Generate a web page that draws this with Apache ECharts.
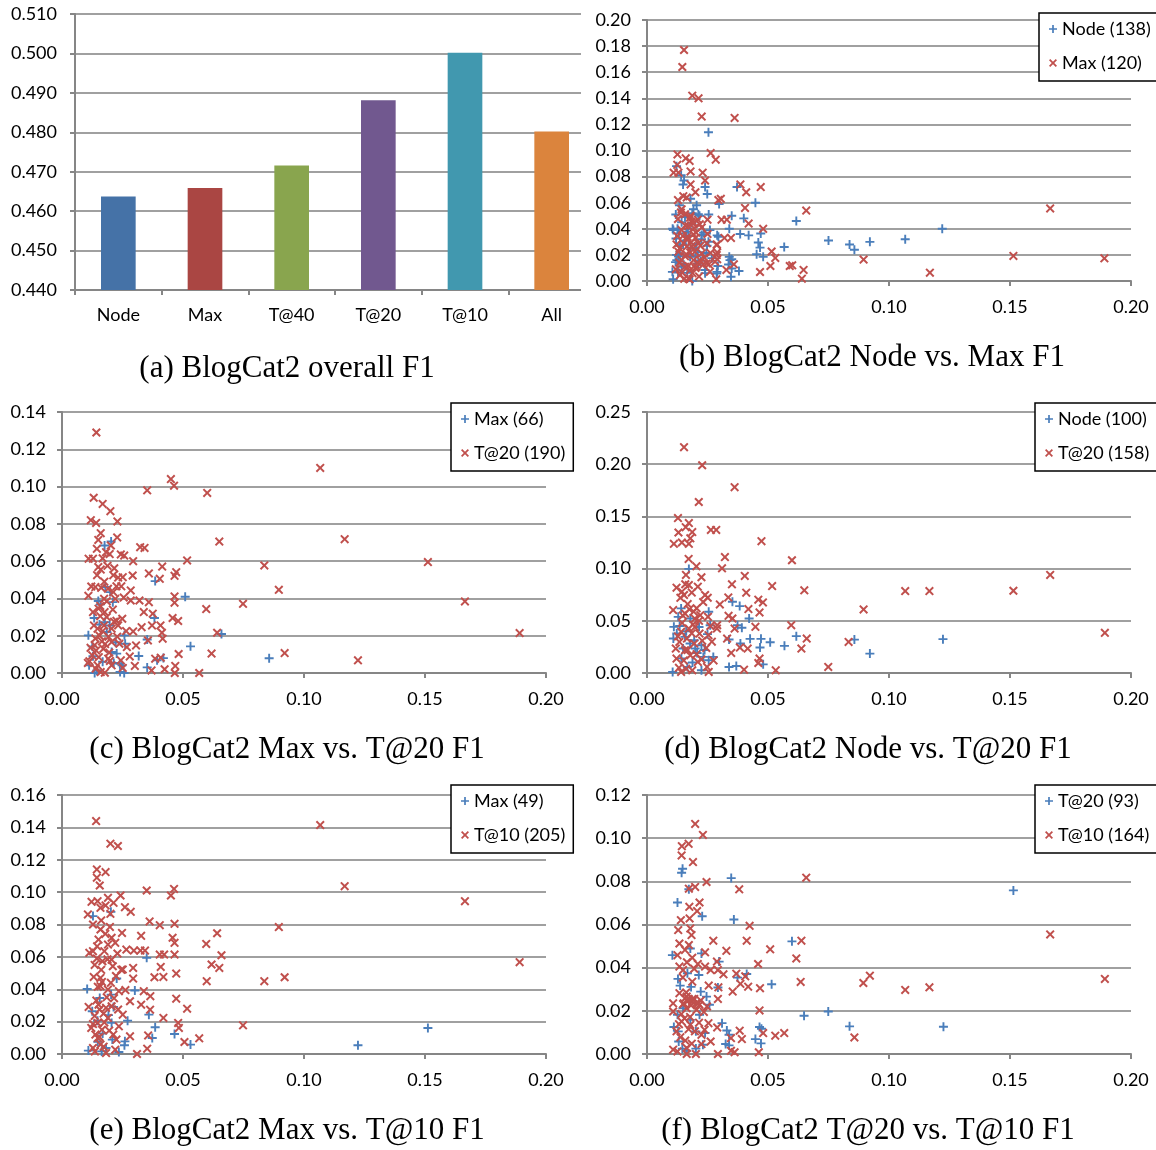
<!DOCTYPE html>
<html><head><meta charset="utf-8">
<script src="https://cdn.jsdelivr.net/npm/echarts@6/dist/echarts.min.js"></script>
<style>
html,body{margin:0;padding:0;background:#fff;}
#main{position:absolute;left:0;top:0;width:1156px;height:1150px;}
#barwrap{position:absolute;left:0;top:0;width:581px;height:340px;overflow:hidden;}
#bar{width:596px;height:340px;}
</style></head><body>
<div id="main"></div><div id="barwrap"><div id="bar"></div></div>
<script>
// ---------- DATA ----------
const barCategories = ['Node','Max','T@40','T@20','T@10','All'];
const barValues = [0.4637,0.4659,0.4716,0.4881,0.5002,0.4802];
const barColors = ['#4572A7','#AA4643','#89A54E','#71588F','#4198AF','#DB843D'];

const bNode = [[0.0254,0.114],[0.0122,0.088],[0.0141,0.081],[0.0153,0.077],[0.0149,0.074],[0.024,0.072],[0.0249,0.0667],[0.0372,0.072],[0.018,0.063],[0.0298,0.059],[0.0448,0.060],[0.0205,0.058],[0.0134,0.058],[0.0119,0.051],[0.0255,0.051],[0.035,0.050],[0.040,0.048],[0.0617,0.046],[0.0106,0.040],[0.0126,0.040],[0.0169,0.040],[0.034,0.040],[0.042,0.035],[0.0385,0.036],[0.047,0.0364],[0.122,0.040],[0.1067,0.032],[0.0921,0.030],[0.0857,0.024],[0.0837,0.028],[0.075,0.031],[0.0567,0.026],[0.046,0.0295],[0.0467,0.0256],[0.0453,0.0205],[0.048,0.0185],[0.034,0.0185],[0.035,0.0167],[0.0337,0.0126],[0.038,0.0077],[0.0347,0.0033],[0.0293,0.0115],[0.0289,0.007],[0.024,0.006],[0.0105,0.007],[0.0108,0.0013],[0.0187,0.000],[0.013,0.019],[0.0122,0.020],[0.0248,0.027],[0.021,0.022],[0.020,0.019],[0.029,0.035],[0.0172,0.0346],[0.0225,0.032],[0.016,0.031],[0.0234,0.037],[0.018,0.0256],[0.0134,0.027],[0.0149,0.028],[0.0143,0.045],[0.0157,0.049],[0.0187,0.052],[0.0217,0.050],[0.0109,0.039],[0.012,0.0326],[0.0123,0.016],[0.0136,0.0211],[0.0143,0.0109],[0.0178,0.0186],[0.0199,0.025],[0.0226,0.0352],[0.0254,0.0301],[0.0295,0.0339],[0.0212,0.0135],[0.024,0.0084],[0.0136,0.0275],[0.0164,0.0377],[0.026,0.039],[0.0192,0.055],[0.0212,0.0511],[0.0288,0.0058],[0.035,0.0096],[0.0343,0.016],[0.0118,0.0145],[0.0132,0.0365],[0.0152,0.0125],[0.0166,0.0062],[0.0185,0.0445],[0.0205,0.0285],[0.0222,0.0155],[0.0245,0.0215],[0.0268,0.0175],[0.0128,0.0065]];
const bMax = [[0.0153,0.177],[0.0146,0.164],[0.0187,0.142],[0.0213,0.140],[0.0226,0.126],[0.0362,0.125],[0.0263,0.098],[0.0284,0.093],[0.0126,0.097],[0.0125,0.089],[0.016,0.094],[0.0176,0.092],[0.011,0.083],[0.013,0.083],[0.018,0.084],[0.023,0.083],[0.024,0.077],[0.018,0.074],[0.020,0.068],[0.0386,0.074],[0.041,0.068],[0.047,0.072],[0.0305,0.063],[0.0295,0.062],[0.0405,0.056],[0.0658,0.054],[0.1666,0.0556],[0.0128,0.062],[0.015,0.065],[0.0164,0.064],[0.014,0.0525],[0.018,0.050],[0.0184,0.045],[0.021,0.047],[0.025,0.047],[0.0308,0.047],[0.033,0.047],[0.042,0.044],[0.048,0.040],[0.0226,0.041],[0.0167,0.034],[0.0122,0.028],[0.020,0.033],[0.025,0.036],[0.032,0.033],[0.0347,0.033],[0.0289,0.028],[0.022,0.027],[0.0515,0.0226],[0.053,0.0177],[0.051,0.0115],[0.059,0.0115],[0.060,0.012],[0.0647,0.0085],[0.064,0.0018],[0.0467,0.0069],[0.0895,0.0164],[0.1514,0.0192],[0.189,0.0174],[0.1169,0.0064],[0.0359,0.0128],[0.0328,0.0085],[0.0286,0.0013],[0.0176,0.0013],[0.0154,0.0018],[0.0255,0.0128],[0.020,0.010],[0.0134,0.014],[0.0157,0.019],[0.0179,0.0218],[0.021,0.014],[0.029,0.022],[0.029,0.0167],[0.0119,0.009],[0.0125,0.0345],[0.0143,0.039],[0.0151,0.0289],[0.0130,0.0225],[0.0143,0.016],[0.0157,0.0109],[0.0178,0.0084],[0.0192,0.016],[0.0205,0.0109],[0.0226,0.0212],[0.0219,0.016],[0.0247,0.0135],[0.0171,0.0019],[0.0136,0.0045],[0.0212,0.0289],[0.0178,0.0485],[0.0192,0.0447],[0.0164,0.0319],[0.0247,0.0289],[0.0288,0.0276],[0.0288,0.0199],[0.0281,0.0148],[0.026,0.007],[0.0185,0.0268],[0.0143,0.055],[0.0157,0.0511],[0.0171,0.042],[0.0192,0.0358],[0.0135,0.025],[0.0148,0.0345],[0.0165,0.0265],[0.0172,0.0115],[0.0188,0.006],[0.0198,0.0225],[0.0215,0.0035],[0.0232,0.0125],[0.0238,0.0178],[0.0262,0.0215],[0.0128,0.0475],[0.0158,0.0425],[0.0203,0.037],[0.0218,0.0435],[0.0145,0.0065],[0.0162,0.0205],[0.0182,0.0295],[0.0195,0.0405]];

const cMax = [[0.0203,0.0705],[0.0176,0.0684],[0.0385,0.0493],[0.0179,0.0461],[0.0199,0.0434],[0.0509,0.0409],[0.021,0.038],[0.015,0.0386],[0.0159,0.0368],[0.0133,0.0295],[0.0382,0.0295],[0.0177,0.0273],[0.0197,0.0255],[0.0109,0.0202],[0.0659,0.0209],[0.0258,0.0202],[0.0352,0.018],[0.0261,0.0157],[0.0125,0.0143],[0.0531,0.0143],[0.0205,0.0113],[0.0226,0.0104],[0.0317,0.0091],[0.0856,0.0079],[0.0419,0.008],[0.0393,0.0068],[0.0214,0.0054],[0.0239,0.005],[0.0248,0.0041],[0.0112,0.0041],[0.0352,0.003],[0.0144,0.0014],[0.024,0.0005],[0.0257,0.0],[0.0135,0.0],[0.0168,0.006],[0.0185,0.022],[0.0155,0.026],[0.0222,0.0165],[0.0128,0.009]];
const cT20 = [[0.0142,0.129],[0.045,0.104],[0.0463,0.1005],[0.1067,0.110],[0.0352,0.098],[0.060,0.0966],[0.0131,0.094],[0.0168,0.0907],[0.020,0.0868],[0.0119,0.082],[0.0141,0.0805],[0.0229,0.0813],[0.0228,0.0727],[0.016,0.075],[0.015,0.0714],[0.065,0.0705],[0.1168,0.0718],[0.0323,0.0675],[0.0341,0.0671],[0.0144,0.0666],[0.0182,0.0648],[0.0197,0.0638],[0.0243,0.0636],[0.0257,0.063],[0.0202,0.0684],[0.011,0.0613],[0.0128,0.0613],[0.0294,0.060],[0.0517,0.0604],[0.0836,0.0577],[0.1512,0.0595],[0.0414,0.0571],[0.015,0.0568],[0.016,0.0555],[0.0216,0.0562],[0.0359,0.0534],[0.0472,0.0541],[0.0465,0.0521],[0.0404,0.0505],[0.0232,0.0512],[0.0251,0.0514],[0.0292,0.0523],[0.0121,0.0464],[0.0138,0.0461],[0.0162,0.0457],[0.019,0.0452],[0.0212,0.0434],[0.0284,0.0443],[0.0896,0.0446],[0.0465,0.0411],[0.0465,0.0377],[0.0109,0.0414],[0.0174,0.0398],[0.022,0.0398],[0.0284,0.0389],[0.032,0.0389],[0.0359,0.038],[0.0748,0.0371],[0.1665,0.0384],[0.0596,0.0343],[0.0338,0.0327],[0.0375,0.0318],[0.048,0.0279],[0.0457,0.0295],[0.0407,0.0255],[0.0372,0.0255],[0.0329,0.0246],[0.0249,0.0291],[0.0232,0.0255],[0.0205,0.0238],[0.0174,0.0255],[0.0147,0.0238],[0.0128,0.0327],[0.0151,0.0345],[0.0176,0.0327],[0.0294,0.0223],[0.0413,0.0216],[0.0416,0.0184],[0.0355,0.0175],[0.0641,0.0216],[0.1891,0.0214],[0.0306,0.0148],[0.0268,0.0139],[0.0237,0.0157],[0.0205,0.0166],[0.0171,0.013],[0.0141,0.0121],[0.0125,0.0095],[0.0618,0.0104],[0.0482,0.0102],[0.092,0.0107],[0.1223,0.0068],[0.028,0.0089],[0.0385,0.0077],[0.0408,0.0082],[0.0243,0.0068],[0.0191,0.0077],[0.0113,0.0063],[0.0107,0.0054],[0.0147,0.0041],[0.0205,0.0041],[0.0301,0.0038],[0.0468,0.0038],[0.0424,0.002],[0.037,0.0014],[0.016,0.0005],[0.0177,0.0002],[0.0466,0.0],[0.0567,0.0],[0.0139,0.0023],[0.0251,0.0027],[0.0155,0.020],[0.0185,0.030],[0.021,0.034],[0.0165,0.017],[0.0195,0.011],[0.0135,0.015],[0.0225,0.028],[0.0175,0.049],[0.0188,0.0575],[0.0158,0.036],[0.0225,0.0465],[0.0255,0.0405],[0.0138,0.0185],[0.0152,0.0085],[0.0168,0.0225],[0.0178,0.0155],[0.0192,0.0195],[0.0215,0.0275],[0.0228,0.0195],[0.0185,0.0385],[0.0145,0.0525],[0.0168,0.0615],[0.0212,0.0525],[0.0245,0.0465],[0.0198,0.0065],[0.0158,0.0305],[0.0132,0.0255],[0.0265,0.0225],[0.0118,0.0135]];

const dNode = [[0.0173,0.0997],[0.0353,0.0683],[0.0383,0.0641],[0.0422,0.0522],[0.0255,0.0587],[0.0141,0.0619],[0.0129,0.0538],[0.0111,0.0442],[0.0179,0.0522],[0.0374,0.0458],[0.0392,0.0433],[0.0261,0.0458],[0.025,0.0372],[0.0426,0.0327],[0.0471,0.0327],[0.0509,0.0295],[0.0568,0.026],[0.0617,0.0353],[0.0857,0.032],[0.1223,0.0324],[0.0921,0.0186],[0.0467,0.0244],[0.0386,0.0282],[0.0339,0.0321],[0.0123,0.0378],[0.0157,0.0346],[0.0195,0.0314],[0.0225,0.0266],[0.0109,0.033],[0.0149,0.0234],[0.0207,0.0192],[0.0233,0.0154],[0.0274,0.0154],[0.0255,0.0122],[0.0339,0.0058],[0.0369,0.0067],[0.048,0.0083],[0.0106,0.001],[0.0167,0.0058],[0.0225,0.0026],[0.0199,0.0234],[0.0178,0.0282],[0.0135,0.045],[0.0162,0.04],[0.0215,0.044],[0.0142,0.014],[0.0188,0.01],[0.0238,0.022]];
const dT20 = [[0.0153,0.2163],[0.0228,0.199],[0.0362,0.178],[0.0214,0.1638],[0.0128,0.1484],[0.013,0.1346],[0.0173,0.1436],[0.016,0.1397],[0.0187,0.135],[0.0179,0.129],[0.0111,0.1237],[0.0144,0.125],[0.0173,0.1237],[0.0264,0.137],[0.0286,0.137],[0.0473,0.1263],[0.0599,0.108],[0.0322,0.111],[0.0172,0.1093],[0.031,0.1003],[0.0204,0.1022],[0.0404,0.093],[0.0225,0.0917],[0.0161,0.0939],[0.0517,0.0833],[0.0351,0.0849],[0.065,0.0792],[0.1067,0.0785],[0.1167,0.0785],[0.1514,0.0788],[0.1666,0.0939],[0.041,0.0769],[0.0122,0.0817],[0.0144,0.0779],[0.0173,0.0843],[0.021,0.0827],[0.0153,0.0747],[0.024,0.0747],[0.0251,0.0721],[0.0336,0.0724],[0.046,0.0702],[0.0479,0.0676],[0.0301,0.0657],[0.0895,0.0609],[0.0419,0.0612],[0.0108,0.0603],[0.0157,0.057],[0.0193,0.0587],[0.022,0.0554],[0.0252,0.0538],[0.0337,0.0548],[0.0353,0.0522],[0.0465,0.058],[0.0596,0.0458],[0.0448,0.0442],[0.0362,0.0426],[0.029,0.0458],[0.0289,0.0426],[0.019,0.0465],[0.0173,0.0426],[0.0141,0.0394],[0.0217,0.0378],[0.0254,0.0362],[0.0331,0.033],[0.066,0.033],[0.0833,0.0298],[0.1892,0.0385],[0.0638,0.0234],[0.0384,0.0244],[0.0416,0.0234],[0.0348,0.0192],[0.0465,0.0138],[0.046,0.0096],[0.0749,0.0058],[0.0532,0.0026],[0.0401,0.0032],[0.0134,0.0298],[0.0157,0.0218],[0.0179,0.017],[0.0122,0.0138],[0.021,0.0106],[0.0248,0.0058],[0.0187,0.0026],[0.0141,0.001],[0.0255,0.001],[0.0119,0.0234],[0.0195,0.0282],[0.0165,0.033],[0.0185,0.038],[0.0205,0.062],[0.0168,0.066],[0.0232,0.068],[0.0145,0.048],[0.0198,0.052],[0.0228,0.031],[0.0262,0.045],[0.0152,0.012],[0.0138,0.072],[0.0158,0.085],[0.0185,0.077],[0.0148,0.055],[0.0175,0.061],[0.0198,0.044],[0.0215,0.05],[0.0168,0.022],[0.0205,0.018],[0.0225,0.013],[0.0132,0.005],[0.0162,0.004],[0.0245,0.024],[0.0268,0.03],[0.0128,0.035],[0.0275,0.012]];

const eMax = [[0.0128,0.0852],[0.0202,0.0878],[0.035,0.0594],[0.0226,0.0466],[0.0104,0.0402],[0.0301,0.0392],[0.0203,0.0367],[0.0156,0.0346],[0.0213,0.0291],[0.0125,0.0264],[0.0359,0.0243],[0.0147,0.0206],[0.0271,0.0206],[0.0205,0.0192],[0.0385,0.0165],[0.0168,0.0126],[0.0465,0.0124],[0.1512,0.0161],[0.0373,0.0099],[0.0208,0.0089],[0.026,0.0078],[0.0258,0.0054],[0.0531,0.0058],[0.1223,0.0054],[0.0109,0.0021],[0.0182,0.0037],[0.0164,0.0016],[0.0235,0.0012],[0.0148,0.0075],[0.0192,0.024]];
const eT10 = [[0.0141,0.1439],[0.1067,0.1414],[0.020,0.1299],[0.0231,0.1285],[0.0144,0.114],[0.0144,0.1089],[0.018,0.1124],[0.0156,0.1041],[0.1168,0.1037],[0.035,0.101],[0.0463,0.102],[0.045,0.0979],[0.0242,0.0979],[0.1665,0.0944],[0.0122,0.094],[0.0147,0.0944],[0.019,0.0965],[0.0213,0.0934],[0.0159,0.0903],[0.018,0.0918],[0.026,0.0907],[0.0284,0.0878],[0.0107,0.0862],[0.020,0.0866],[0.0128,0.080],[0.0362,0.0819],[0.0404,0.0796],[0.0465,0.0804],[0.0896,0.0784],[0.0641,0.0746],[0.0159,0.0769],[0.0179,0.0742],[0.0151,0.0707],[0.0205,0.0718],[0.0248,0.0748],[0.0327,0.073],[0.0457,0.0718],[0.0465,0.0687],[0.0596,0.068],[0.019,0.0676],[0.022,0.0687],[0.0266,0.0645],[0.0297,0.0639],[0.0324,0.0639],[0.0343,0.0639],[0.0128,0.0635],[0.0113,0.0625],[0.0229,0.0621],[0.0404,0.0614],[0.0422,0.0614],[0.0465,0.0614],[0.0659,0.061],[0.0144,0.059],[0.0167,0.0573],[0.0205,0.0583],[0.1891,0.0567],[0.0618,0.0553],[0.065,0.0532],[0.0408,0.0538],[0.021,0.0542],[0.0251,0.0522],[0.0294,0.0532],[0.0472,0.0497],[0.0131,0.0476],[0.0159,0.047],[0.0223,0.0482],[0.0294,0.0466],[0.0419,0.0476],[0.0382,0.0474],[0.092,0.0474],[0.0598,0.045],[0.0836,0.045],[0.0159,0.0419],[0.019,0.0398],[0.0235,0.0388],[0.0338,0.0388],[0.0365,0.0357],[0.0472,0.0342],[0.0327,0.0305],[0.011,0.0291],[0.0281,0.0326],[0.0151,0.0305],[0.0205,0.0295],[0.0517,0.028],[0.0364,0.0274],[0.0419,0.0223],[0.0251,0.0243],[0.019,0.0223],[0.048,0.0192],[0.0147,0.0192],[0.0235,0.0171],[0.0483,0.0161],[0.0748,0.0177],[0.0121,0.0161],[0.0356,0.0115],[0.0281,0.0109],[0.0148,0.0099],[0.0567,0.0097],[0.0225,0.0089],[0.0506,0.0074],[0.0159,0.0058],[0.0352,0.0033],[0.0136,0.0016],[0.0182,0.0006],[0.031,0.0],[0.022,0.0027],[0.0128,0.0037],[0.0138,0.012],[0.0165,0.015],[0.0172,0.025],[0.0142,0.033],[0.0185,0.035],[0.0162,0.052],[0.0135,0.055],[0.0212,0.012],[0.0175,0.0195],[0.0155,0.0275],[0.0202,0.044],[0.0245,0.052],[0.0148,0.0415],[0.0165,0.0445],[0.0182,0.0285],[0.0195,0.0145],[0.0135,0.0235],[0.0155,0.0105],[0.0172,0.0045],[0.0188,0.0585],[0.0145,0.0665],[0.0175,0.0635],[0.0215,0.0345],[0.0232,0.0275],[0.0128,0.0185],[0.0262,0.0395],[0.0162,0.0825],[0.0198,0.0785]];

const fT20 = [[0.0147,0.0858],[0.0143,0.084],[0.0348,0.0815],[0.1514,0.0758],[0.0173,0.0763],[0.0126,0.0702],[0.0228,0.0638],[0.0359,0.0623],[0.0599,0.0522],[0.0105,0.0458],[0.0225,0.0466],[0.0298,0.0428],[0.0179,0.0489],[0.0412,0.0371],[0.0374,0.0354],[0.0128,0.0348],[0.0167,0.0374],[0.0214,0.0366],[0.0515,0.0323],[0.0293,0.0308],[0.0137,0.0317],[0.0182,0.0311],[0.0222,0.0289],[0.0246,0.0266],[0.0649,0.0177],[0.0749,0.0197],[0.0837,0.0128],[0.1225,0.0126],[0.0465,0.0125],[0.0473,0.0117],[0.0448,0.0069],[0.0471,0.0049],[0.031,0.0143],[0.033,0.0109],[0.0339,0.0089],[0.0325,0.0046],[0.0339,0.004],[0.0111,0.0125],[0.0129,0.0105],[0.0131,0.0058],[0.0146,0.0025],[0.0164,0.0015],[0.0202,0.0025],[0.0231,0.0043],[0.0202,0.0105],[0.024,0.0097],[0.0217,0.0182],[0.0179,0.0158],[0.0149,0.0212],[0.0126,0.0182],[0.0258,0.0228]];
const fT10 = [[0.0199,0.1066],[0.0231,0.1015],[0.0172,0.0974],[0.0144,0.0963],[0.0143,0.092],[0.019,0.0889],[0.0246,0.0797],[0.0658,0.0817],[0.0381,0.0763],[0.0173,0.0766],[0.0199,0.0774],[0.0217,0.0702],[0.0175,0.0682],[0.0207,0.0662],[0.0176,0.0628],[0.014,0.062],[0.0424,0.0594],[0.0129,0.0574],[0.0179,0.0582],[0.0184,0.0551],[0.0274,0.0525],[0.0412,0.0525],[0.0638,0.0525],[0.1666,0.0554],[0.0134,0.0512],[0.0173,0.0505],[0.0157,0.0482],[0.0509,0.0485],[0.0328,0.0478],[0.024,0.0471],[0.0617,0.0443],[0.0126,0.0458],[0.0187,0.0446],[0.021,0.0417],[0.0459,0.0417],[0.0289,0.0428],[0.0134,0.0405],[0.0149,0.0389],[0.024,0.0405],[0.0263,0.0389],[0.0293,0.0389],[0.0316,0.0369],[0.0369,0.0372],[0.0406,0.036],[0.0921,0.0363],[0.0635,0.0334],[0.0894,0.0329],[0.0187,0.0335],[0.0255,0.0317],[0.0295,0.0309],[0.0386,0.0325],[0.0418,0.0312],[0.0467,0.0305],[0.0354,0.0289],[0.1067,0.0297],[0.1167,0.0309],[0.1892,0.0348],[0.0134,0.0282],[0.0164,0.0266],[0.0293,0.0255],[0.0108,0.0235],[0.0149,0.0231],[0.0187,0.0243],[0.0217,0.0228],[0.0248,0.022],[0.0164,0.0212],[0.0205,0.0205],[0.0465,0.0202],[0.0108,0.0197],[0.0254,0.0143],[0.0143,0.0151],[0.0179,0.0135],[0.029,0.0123],[0.0383,0.0108],[0.048,0.0097],[0.0567,0.0097],[0.053,0.0085],[0.0857,0.0077],[0.0122,0.0105],[0.0198,0.0105],[0.0225,0.0089],[0.0347,0.0074],[0.0392,0.0069],[0.0263,0.0058],[0.0108,0.002],[0.0164,0.0028],[0.0225,0.0046],[0.0347,0.0015],[0.0362,0.0008],[0.0462,0.0008],[0.0164,0.0],[0.0202,0.0],[0.0293,0.0],[0.0126,0.0012],[0.0168,0.0245],[0.0195,0.0255],[0.0222,0.0248],[0.0158,0.0258],[0.0182,0.0225],[0.0212,0.0235],[0.0155,0.0165],[0.0172,0.0115],[0.0138,0.0078],[0.0238,0.0112],[0.0185,0.0048],[0.0152,0.0235],[0.0172,0.0255],[0.0188,0.0255],[0.0205,0.0238],[0.0162,0.0285],[0.0148,0.0355],[0.0165,0.0425],[0.0195,0.0395],[0.0142,0.0185],[0.0178,0.0172],[0.0215,0.0145],[0.0132,0.0138],[0.0235,0.0195],[0.0158,0.0062]];

const xTicks = {min:0, max:0.2, interval:0.05};
// ---------- STYLE ----------
const FONT = 'Lato';
const FS = 18;
const GRID_C = '#A0A0A0', AXIS_C = '#868686';
const BLUE = '#4A7EBB', RED = '#C0504D';
const PLUS = 'path://M3.55,0H5.45V3.55H9V5.45H5.45V9H3.55V5.45H0V3.55H3.55Z';
const CROSS = 'path://M0,1.4L1.4,0L4.5,3.1L7.6,0L9,1.4L5.9,4.5L9,7.6L7.6,9L4.5,5.9L1.4,9L0,7.6L3.1,4.5Z';

// ---------- BAR CHART (a) ----------
const bar = echarts.init(document.getElementById('bar'), null, {renderer:'canvas'});
bar.setOption({
  animation:false,
  grid:{left:75, right:1, top:14, bottom:50},
  xAxis:{type:'category', data:barCategories,
    axisLine:{lineStyle:{color:AXIS_C, width:2}},
    axisTick:{show:true, length:5, lineStyle:{color:AXIS_C, width:2}},
    axisLabel:{color:'#000', fontFamily:FONT, fontSize:FS, margin:16}},
  yAxis:{type:'value', min:0.44, max:0.51, interval:0.01,
    axisLine:{show:true, lineStyle:{color:AXIS_C, width:2}},
    axisTick:{show:true, length:5, lineStyle:{color:AXIS_C, width:2}},
    splitLine:{lineStyle:{color:GRID_C, width:2}},
    axisLabel:{color:'#000', fontFamily:FONT, fontSize:FS, margin:18, formatter:v=>v.toFixed(3)}},
  series:[{type:'bar', barWidth:'40%',
    data:barValues.map((v,i)=>({value:v, itemStyle:{color:barColors[i]}}))}]
});

// ---------- SCATTER PANELS ----------
const panels = [
  {grid:{left:647, top:20, width:484, height:261}, ymax:0.20, yint:0.02,
   s:[['Node (138)',bNode,BLUE,PLUS],['Max (120)',bMax,RED,CROSS]], leg:{left:1039, top:13}, cut:true},
  {grid:{left:62, top:412, width:484, height:261}, ymax:0.14, yint:0.02,
   s:[['Max (66)',cMax,BLUE,PLUS],['T@20 (190)',cT20,RED,CROSS]], leg:{left:451, top:403}, cut:false},
  {grid:{left:647, top:412, width:484, height:261}, ymax:0.25, yint:0.05,
   s:[['Node (100)',dNode,BLUE,PLUS],['T@20 (158)',dT20,RED,CROSS]], leg:{left:1035, top:403}, cut:true},
  {grid:{left:62, top:795, width:484, height:259}, ymax:0.16, yint:0.02,
   s:[['Max (49)',eMax,BLUE,PLUS],['T@10 (205)',eT10,RED,CROSS]], leg:{left:451, top:785}, cut:false},
  {grid:{left:647, top:795, width:484, height:259}, ymax:0.12, yint:0.02,
   s:[['T@20 (93)',fT20,BLUE,PLUS],['T@10 (164)',fT10,RED,CROSS]], leg:{left:1035, top:785}, cut:true}
];
const grids=[], xAxes=[], yAxes=[], series=[], legends=[];
panels.forEach((p,i)=>{
  grids.push(p.grid);
  xAxes.push({type:'value', gridIndex:i, min:xTicks.min, max:xTicks.max, interval:xTicks.interval,
    axisLine:{show:true, onZero:false, lineStyle:{color:AXIS_C, width:2}},
    axisTick:{show:true, length:5, lineStyle:{color:AXIS_C, width:2}},
    splitLine:{show:false},
    axisLabel:{color:'#000', fontFamily:FONT, fontSize:FS, margin:17, formatter:v=>v.toFixed(2)}});
  yAxes.push({type:'value', gridIndex:i, min:0, max:p.ymax, interval:p.yint,
    axisLine:{show:true, onZero:false, lineStyle:{color:AXIS_C, width:2}},
    axisTick:{show:true, length:5, lineStyle:{color:AXIS_C, width:2}},
    splitLine:{lineStyle:{color:GRID_C, width:2}},
    axisLabel:{color:'#000', fontFamily:FONT, fontSize:FS, margin:16, formatter:v=>v.toFixed(2)}});
  p.s.forEach(s=>{
    series.push({type:'scatter', name:s[0], xAxisIndex:i, yAxisIndex:i, data:s[1],
      symbol:s[3], symbolSize:9, itemStyle:{color:s[2], opacity:1}, z:s[2]===RED?3:2});
  });
  legends.push({orient:'vertical', left:p.leg.left, top:p.leg.top, data:p.s.map(s=>s[0]),
    selectedMode:false, itemWidth:8, itemHeight:8, itemGap:16,
    padding: p.cut ? [7,40,9,10] : [7,8,9,10],
    borderColor:'#000', borderWidth:1.5, backgroundColor:'#fff',
    textStyle:{color:'#000', fontFamily:FONT, fontSize:FS}});
});

const captions = [
  ['(a) BlogCat2 overall F1',287,369],
  ['(b) BlogCat2 Node vs. Max F1',872,358],
  ['(c) BlogCat2 Max vs. T@20 F1',287,750],
  ['(d) BlogCat2 Node vs. T@20 F1',868,750],
  ['(e) BlogCat2 Max vs. T@10 F1',287,1131],
  ['(f) BlogCat2 T@20 vs. T@10 F1',868,1131]
];
const main = echarts.init(document.getElementById('main'), null, {renderer:'canvas'});
main.setOption({
  animation:false,
  grid:grids, xAxis:xAxes, yAxis:yAxes, series:series, legend:legends,
  graphic:captions.map(c=>({type:'text', x:c[1], y:c[2],
    style:{text:c[0], fill:'#000', font:'31px "Liberation Serif"', align:'center', verticalAlign:'middle'}}))
});
</script>
</body></html>
